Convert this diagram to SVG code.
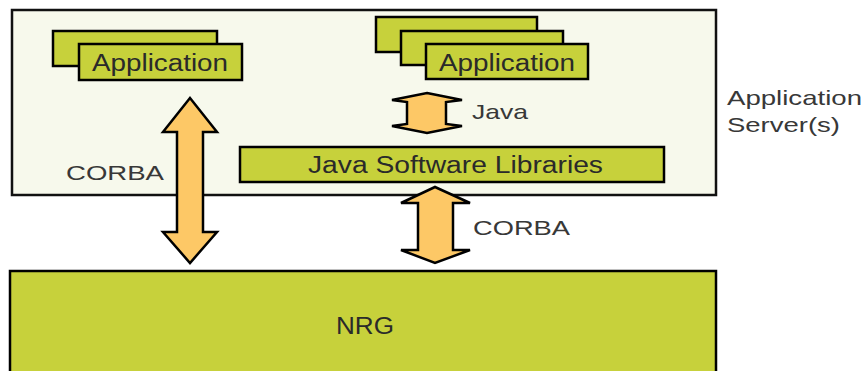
<svg xmlns="http://www.w3.org/2000/svg" width="866" height="371" viewBox="0 0 866 371">
<style>
.box{fill:#c7d13b;stroke:#000;stroke-width:2.5}
.arr{fill:#fdc866;stroke:#000;stroke-width:2.5;stroke-linejoin:miter}
.t{font-family:"Liberation Sans",Arial,sans-serif;fill:#2a2a2a;font-size:23px}
.l{font-family:"Liberation Sans",Arial,sans-serif;fill:#383838;font-size:21px}
</style>
<rect width="866" height="371" fill="#fff"/>
<g id="server">
<rect x="12" y="10" width="704" height="185" fill="#f7f9ec" stroke="#111" stroke-width="2.5"/>
</g>
<g id="app-left">
<rect class="box" x="53" y="31" width="164" height="35"/>
<rect class="box" x="79" y="44" width="163" height="36"/>
<text class="t" x="92" y="71" textLength="136" lengthAdjust="spacingAndGlyphs">Application</text>
</g>
<g id="app-right">
<rect class="box" x="376" y="17" width="161" height="35"/>
<rect class="box" x="401" y="31" width="162" height="34"/>
<rect class="box" x="426" y="44" width="162" height="35"/>
<text class="t" x="439" y="71" textLength="136" lengthAdjust="spacingAndGlyphs">Application</text>
</g>
<g id="libs">
<rect class="box" x="240" y="147" width="424" height="35"/>
<text class="t" x="308" y="173" font-size="22" textLength="295" lengthAdjust="spacingAndGlyphs">Java Software Libraries</text>
</g>
<g id="nrg">
<rect class="box" x="10" y="271" width="706" height="110"/>
<text class="t" x="336" y="334" font-size="23" textLength="58" lengthAdjust="spacingAndGlyphs">NRG</text>
</g>
<g id="connectors">
<polygon class="arr" points="190,98 217,132 203,132 203,232 217,232 190,263 163,232 177,232 177,132 163,132"/>
<polygon class="arr" points="427,93 462,100 446,102 446,124 462,126 427,133 392,126 407,124 407,102 392,100"/>
<polygon class="arr" points="435,187 470,203 453,203 453,250 470,250 435,263 401,250 418,250 418,203 401,203"/>
</g>
<g id="labels">
<text class="l" x="66" y="180" textLength="98" lengthAdjust="spacingAndGlyphs">CORBA</text>
<text class="l" x="472" y="119" textLength="56" lengthAdjust="spacingAndGlyphs">Java</text>
<text class="l" x="473" y="235" textLength="97" lengthAdjust="spacingAndGlyphs">CORBA</text>
<text class="l" x="727" y="105" textLength="135" lengthAdjust="spacingAndGlyphs">Application</text>
<text class="l" x="727" y="132" textLength="113" lengthAdjust="spacingAndGlyphs">Server(s)</text>
</g>
</svg>
